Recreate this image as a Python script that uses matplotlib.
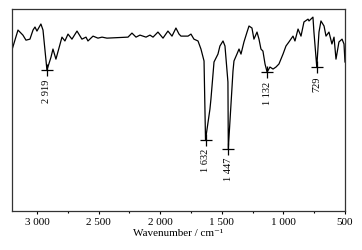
import numpy as np
import matplotlib
matplotlib.use('Agg')
import matplotlib.pyplot as plt
from matplotlib.ticker import MultipleLocator, FuncFormatter

plt.rcParams['font.family'] = ['Liberation Serif', 'DejaVu Serif']

# FTIR spectrum (wavenumber cm-1, transmittance a.u.)
wn = np.array([3203, 3154, 3114, 3089, 3057, 3032, 3016, 3000, 2968, 2951,
               2919, 2886, 2870, 2846, 2797, 2773, 2748, 2716, 2675, 2635,
               2602, 2586, 2545, 2505, 2472, 2432, 2261, 2229, 2196, 2164,
               2115, 2083, 2058, 2018, 1977, 1937, 1904, 1872, 1847, 1831,
               1774, 1750, 1726, 1693, 1669, 1644, 1632, 1596, 1588, 1563,
               1531, 1515, 1490, 1474, 1450, 1447, 1409, 1401, 1377, 1360,
               1344, 1320, 1295, 1279, 1255, 1239, 1214, 1198, 1182, 1166,
               1149, 1132, 1109, 1084, 1060, 1036, 1003, 979, 955, 922,
               906, 881, 857, 833, 800, 792, 760, 752, 729, 711,
               695, 670, 654, 630, 606, 589, 573, 549, 524, 508, 500])
trans = np.array([79.7, 89.6, 87.1, 84.6, 85.1, 89.6, 91.1, 89.1, 92.6, 89.6,
                  69.8, 76.2, 80.2, 75.2, 86.1, 84.2, 87.6, 85.1, 89.1, 85.1,
                  86.1, 84.2, 86.6, 85.6, 86.1, 85.6, 86.1, 88.1, 86.1, 87.1,
                  86.1, 87.1, 86.1, 88.6, 85.6, 89.1, 86.6, 90.6, 87.6, 86.6,
                  86.6, 87.6, 85.1, 84.2, 80.2, 74.3, 35.3, 50.5, 55.4, 73.8,
                  77.7, 81.7, 84.2, 81.7, 63.9, 30.9, 69.3, 74.3, 77.7, 80.2,
                  77.7, 83.7, 88.6, 91.6, 90.6, 85.1, 88.6, 85.1, 80.2, 79.2,
                  72.8, 68.8, 71.3, 70.3, 71.3, 72.8, 77.7, 81.7, 83.7, 86.6,
                  84.2, 90.1, 86.6, 93.6, 95.0, 94.1, 96.0, 88.6, 71.3, 88.6,
                  94.1, 91.6, 86.6, 88.6, 82.7, 86.1, 75.2, 83.7, 85.1, 82.7, 73.8])

peaks = [2919, 1632, 1447, 1132, 729]
peak_labels = ['2 919', '1 632', '1 447', '1 132', '729']

fig = plt.figure(figsize=(3.62, 2.51), dpi=100)
ax = fig.add_axes([0.033, 0.155, 0.92, 0.805])

ax.plot(wn, trans, color='black', lw=0.9)

for p, lab in zip(peaks, peak_labels):
    yv = trans[list(wn).index(p)]
    ax.plot(p, yv, marker='+', color='black', ms=8, mew=0.9)
    ax.annotate(lab, (p, yv), xytext=(0, -6), textcoords='offset points',
                rotation=90, ha='center', va='top', fontsize=7.5)

ax.set_xlim(3203, 500)
ax.set_ylim(0, 100)
ax.set_yticks([])
ax.xaxis.set_major_locator(MultipleLocator(500))
ax.xaxis.set_minor_locator(MultipleLocator(250))
ax.xaxis.set_major_formatter(FuncFormatter(lambda v, pos: '{:,}'.format(int(v)).replace(',', ' ')))
ax.tick_params(axis='x', which='major', direction='out', length=2.5, width=0.8,
               labelsize=8, pad=2)
ax.tick_params(axis='x', which='minor', direction='out', length=1.5, width=0.8)
for s in ax.spines.values():
    s.set_linewidth(0.9)
    s.set_color('#333333')
ax.set_xlabel('Wavenumber / cm\u207b\u00b9', fontsize=8, labelpad=1)

fig.savefig('out.png', dpi=100)
